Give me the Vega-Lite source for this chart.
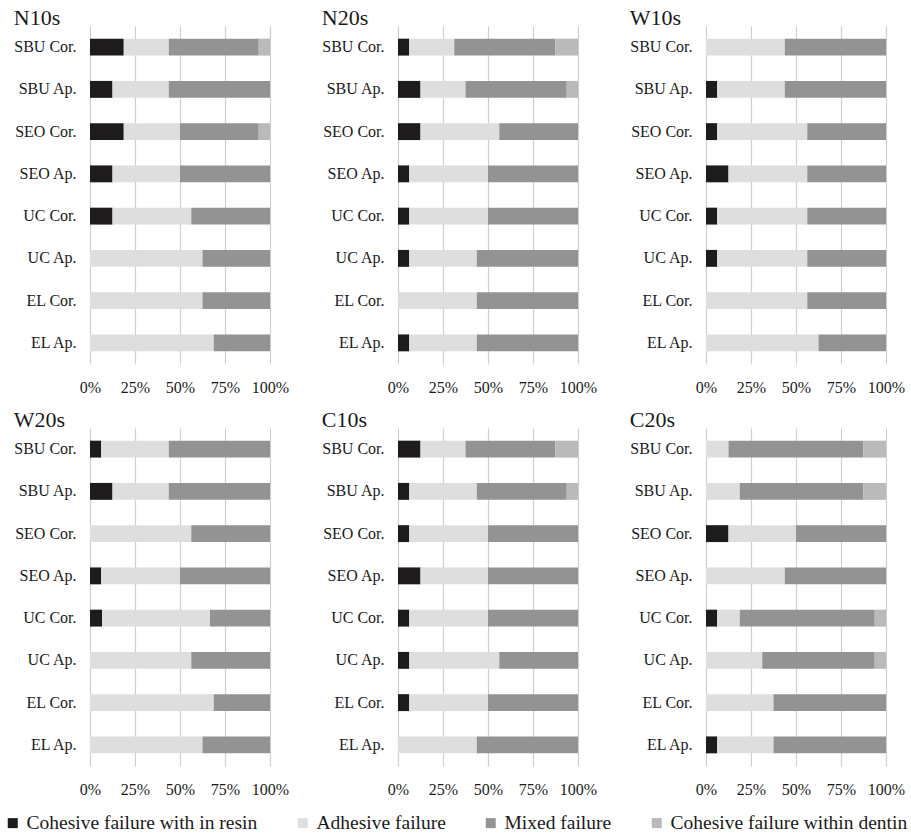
{
  "$schema": "https://vega.github.io/schema/vega-lite/v6.json",
  "background": "white",
  "padding": {"left": 3, "top": 7, "right": 5, "bottom": 2},
  "datasets": {
    "modes": [
      {"mode": "Cohesive failure with in resin", "rank": 1},
      {"mode": "Adhesive failure", "rank": 2},
      {"mode": "Mixed failure", "rank": 3},
      {"mode": "Cohesive failure within dentin", "rank": 4}
    ],
    "rows": [
      {"panel": "N10s", "group": "SBU Cor.", "mode": "Cohesive failure with in resin", "pct": 18.75},
      {"panel": "N10s", "group": "SBU Cor.", "mode": "Adhesive failure", "pct": 25},
      {"panel": "N10s", "group": "SBU Cor.", "mode": "Mixed failure", "pct": 50},
      {"panel": "N10s", "group": "SBU Cor.", "mode": "Cohesive failure within dentin", "pct": 6.25},
      {"panel": "N10s", "group": "SBU Ap.", "mode": "Cohesive failure with in resin", "pct": 12.5},
      {"panel": "N10s", "group": "SBU Ap.", "mode": "Adhesive failure", "pct": 31.25},
      {"panel": "N10s", "group": "SBU Ap.", "mode": "Mixed failure", "pct": 56.25},
      {"panel": "N10s", "group": "SEO Cor.", "mode": "Cohesive failure with in resin", "pct": 18.75},
      {"panel": "N10s", "group": "SEO Cor.", "mode": "Adhesive failure", "pct": 31.25},
      {"panel": "N10s", "group": "SEO Cor.", "mode": "Mixed failure", "pct": 43.75},
      {"panel": "N10s", "group": "SEO Cor.", "mode": "Cohesive failure within dentin", "pct": 6.25},
      {"panel": "N10s", "group": "SEO Ap.", "mode": "Cohesive failure with in resin", "pct": 12.5},
      {"panel": "N10s", "group": "SEO Ap.", "mode": "Adhesive failure", "pct": 37.5},
      {"panel": "N10s", "group": "SEO Ap.", "mode": "Mixed failure", "pct": 50},
      {"panel": "N10s", "group": "UC Cor.", "mode": "Cohesive failure with in resin", "pct": 12.5},
      {"panel": "N10s", "group": "UC Cor.", "mode": "Adhesive failure", "pct": 43.75},
      {"panel": "N10s", "group": "UC Cor.", "mode": "Mixed failure", "pct": 43.75},
      {"panel": "N10s", "group": "UC Ap.", "mode": "Adhesive failure", "pct": 62.5},
      {"panel": "N10s", "group": "UC Ap.", "mode": "Mixed failure", "pct": 37.5},
      {"panel": "N10s", "group": "EL Cor.", "mode": "Adhesive failure", "pct": 62.5},
      {"panel": "N10s", "group": "EL Cor.", "mode": "Mixed failure", "pct": 37.5},
      {"panel": "N10s", "group": "EL Ap.", "mode": "Adhesive failure", "pct": 68.75},
      {"panel": "N10s", "group": "EL Ap.", "mode": "Mixed failure", "pct": 31.25},

      {"panel": "N20s", "group": "SBU Cor.", "mode": "Cohesive failure with in resin", "pct": 6.25},
      {"panel": "N20s", "group": "SBU Cor.", "mode": "Adhesive failure", "pct": 25},
      {"panel": "N20s", "group": "SBU Cor.", "mode": "Mixed failure", "pct": 56.25},
      {"panel": "N20s", "group": "SBU Cor.", "mode": "Cohesive failure within dentin", "pct": 12.5},
      {"panel": "N20s", "group": "SBU Ap.", "mode": "Cohesive failure with in resin", "pct": 12.5},
      {"panel": "N20s", "group": "SBU Ap.", "mode": "Adhesive failure", "pct": 25},
      {"panel": "N20s", "group": "SBU Ap.", "mode": "Mixed failure", "pct": 56.25},
      {"panel": "N20s", "group": "SBU Ap.", "mode": "Cohesive failure within dentin", "pct": 6.25},
      {"panel": "N20s", "group": "SEO Cor.", "mode": "Cohesive failure with in resin", "pct": 12.5},
      {"panel": "N20s", "group": "SEO Cor.", "mode": "Adhesive failure", "pct": 43.75},
      {"panel": "N20s", "group": "SEO Cor.", "mode": "Mixed failure", "pct": 43.75},
      {"panel": "N20s", "group": "SEO Ap.", "mode": "Cohesive failure with in resin", "pct": 6.25},
      {"panel": "N20s", "group": "SEO Ap.", "mode": "Adhesive failure", "pct": 43.75},
      {"panel": "N20s", "group": "SEO Ap.", "mode": "Mixed failure", "pct": 50},
      {"panel": "N20s", "group": "UC Cor.", "mode": "Cohesive failure with in resin", "pct": 6.25},
      {"panel": "N20s", "group": "UC Cor.", "mode": "Adhesive failure", "pct": 43.75},
      {"panel": "N20s", "group": "UC Cor.", "mode": "Mixed failure", "pct": 50},
      {"panel": "N20s", "group": "UC Ap.", "mode": "Cohesive failure with in resin", "pct": 6.25},
      {"panel": "N20s", "group": "UC Ap.", "mode": "Adhesive failure", "pct": 37.5},
      {"panel": "N20s", "group": "UC Ap.", "mode": "Mixed failure", "pct": 56.25},
      {"panel": "N20s", "group": "EL Cor.", "mode": "Adhesive failure", "pct": 43.75},
      {"panel": "N20s", "group": "EL Cor.", "mode": "Mixed failure", "pct": 56.25},
      {"panel": "N20s", "group": "EL Ap.", "mode": "Cohesive failure with in resin", "pct": 6.25},
      {"panel": "N20s", "group": "EL Ap.", "mode": "Adhesive failure", "pct": 37.5},
      {"panel": "N20s", "group": "EL Ap.", "mode": "Mixed failure", "pct": 56.25},

      {"panel": "W10s", "group": "SBU Cor.", "mode": "Adhesive failure", "pct": 43.75},
      {"panel": "W10s", "group": "SBU Cor.", "mode": "Mixed failure", "pct": 56.25},
      {"panel": "W10s", "group": "SBU Ap.", "mode": "Cohesive failure with in resin", "pct": 6.25},
      {"panel": "W10s", "group": "SBU Ap.", "mode": "Adhesive failure", "pct": 37.5},
      {"panel": "W10s", "group": "SBU Ap.", "mode": "Mixed failure", "pct": 56.25},
      {"panel": "W10s", "group": "SEO Cor.", "mode": "Cohesive failure with in resin", "pct": 6.25},
      {"panel": "W10s", "group": "SEO Cor.", "mode": "Adhesive failure", "pct": 50},
      {"panel": "W10s", "group": "SEO Cor.", "mode": "Mixed failure", "pct": 43.75},
      {"panel": "W10s", "group": "SEO Ap.", "mode": "Cohesive failure with in resin", "pct": 12.5},
      {"panel": "W10s", "group": "SEO Ap.", "mode": "Adhesive failure", "pct": 43.75},
      {"panel": "W10s", "group": "SEO Ap.", "mode": "Mixed failure", "pct": 43.75},
      {"panel": "W10s", "group": "UC Cor.", "mode": "Cohesive failure with in resin", "pct": 6.25},
      {"panel": "W10s", "group": "UC Cor.", "mode": "Adhesive failure", "pct": 50},
      {"panel": "W10s", "group": "UC Cor.", "mode": "Mixed failure", "pct": 43.75},
      {"panel": "W10s", "group": "UC Ap.", "mode": "Cohesive failure with in resin", "pct": 6.25},
      {"panel": "W10s", "group": "UC Ap.", "mode": "Adhesive failure", "pct": 50},
      {"panel": "W10s", "group": "UC Ap.", "mode": "Mixed failure", "pct": 43.75},
      {"panel": "W10s", "group": "EL Cor.", "mode": "Adhesive failure", "pct": 56.25},
      {"panel": "W10s", "group": "EL Cor.", "mode": "Mixed failure", "pct": 43.75},
      {"panel": "W10s", "group": "EL Ap.", "mode": "Adhesive failure", "pct": 62.5},
      {"panel": "W10s", "group": "EL Ap.", "mode": "Mixed failure", "pct": 37.5},

      {"panel": "W20s", "group": "SBU Cor.", "mode": "Cohesive failure with in resin", "pct": 6.25},
      {"panel": "W20s", "group": "SBU Cor.", "mode": "Adhesive failure", "pct": 37.5},
      {"panel": "W20s", "group": "SBU Cor.", "mode": "Mixed failure", "pct": 56.25},
      {"panel": "W20s", "group": "SBU Ap.", "mode": "Cohesive failure with in resin", "pct": 12.5},
      {"panel": "W20s", "group": "SBU Ap.", "mode": "Adhesive failure", "pct": 31.25},
      {"panel": "W20s", "group": "SBU Ap.", "mode": "Mixed failure", "pct": 56.25},
      {"panel": "W20s", "group": "SEO Cor.", "mode": "Adhesive failure", "pct": 56.25},
      {"panel": "W20s", "group": "SEO Cor.", "mode": "Mixed failure", "pct": 43.75},
      {"panel": "W20s", "group": "SEO Ap.", "mode": "Cohesive failure with in resin", "pct": 6.25},
      {"panel": "W20s", "group": "SEO Ap.", "mode": "Adhesive failure", "pct": 43.75},
      {"panel": "W20s", "group": "SEO Ap.", "mode": "Mixed failure", "pct": 50},
      {"panel": "W20s", "group": "UC Cor.", "mode": "Cohesive failure with in resin", "pct": 6.67},
      {"panel": "W20s", "group": "UC Cor.", "mode": "Adhesive failure", "pct": 60},
      {"panel": "W20s", "group": "UC Cor.", "mode": "Mixed failure", "pct": 33.33},
      {"panel": "W20s", "group": "UC Ap.", "mode": "Adhesive failure", "pct": 56.25},
      {"panel": "W20s", "group": "UC Ap.", "mode": "Mixed failure", "pct": 43.75},
      {"panel": "W20s", "group": "EL Cor.", "mode": "Adhesive failure", "pct": 68.75},
      {"panel": "W20s", "group": "EL Cor.", "mode": "Mixed failure", "pct": 31.25},
      {"panel": "W20s", "group": "EL Ap.", "mode": "Adhesive failure", "pct": 62.5},
      {"panel": "W20s", "group": "EL Ap.", "mode": "Mixed failure", "pct": 37.5},

      {"panel": "C10s", "group": "SBU Cor.", "mode": "Cohesive failure with in resin", "pct": 12.5},
      {"panel": "C10s", "group": "SBU Cor.", "mode": "Adhesive failure", "pct": 25},
      {"panel": "C10s", "group": "SBU Cor.", "mode": "Mixed failure", "pct": 50},
      {"panel": "C10s", "group": "SBU Cor.", "mode": "Cohesive failure within dentin", "pct": 12.5},
      {"panel": "C10s", "group": "SBU Ap.", "mode": "Cohesive failure with in resin", "pct": 6.25},
      {"panel": "C10s", "group": "SBU Ap.", "mode": "Adhesive failure", "pct": 37.5},
      {"panel": "C10s", "group": "SBU Ap.", "mode": "Mixed failure", "pct": 50},
      {"panel": "C10s", "group": "SBU Ap.", "mode": "Cohesive failure within dentin", "pct": 6.25},
      {"panel": "C10s", "group": "SEO Cor.", "mode": "Cohesive failure with in resin", "pct": 6.25},
      {"panel": "C10s", "group": "SEO Cor.", "mode": "Adhesive failure", "pct": 43.75},
      {"panel": "C10s", "group": "SEO Cor.", "mode": "Mixed failure", "pct": 50},
      {"panel": "C10s", "group": "SEO Ap.", "mode": "Cohesive failure with in resin", "pct": 12.5},
      {"panel": "C10s", "group": "SEO Ap.", "mode": "Adhesive failure", "pct": 37.5},
      {"panel": "C10s", "group": "SEO Ap.", "mode": "Mixed failure", "pct": 50},
      {"panel": "C10s", "group": "UC Cor.", "mode": "Cohesive failure with in resin", "pct": 6.25},
      {"panel": "C10s", "group": "UC Cor.", "mode": "Adhesive failure", "pct": 43.75},
      {"panel": "C10s", "group": "UC Cor.", "mode": "Mixed failure", "pct": 50},
      {"panel": "C10s", "group": "UC Ap.", "mode": "Cohesive failure with in resin", "pct": 6.25},
      {"panel": "C10s", "group": "UC Ap.", "mode": "Adhesive failure", "pct": 50},
      {"panel": "C10s", "group": "UC Ap.", "mode": "Mixed failure", "pct": 43.75},
      {"panel": "C10s", "group": "EL Cor.", "mode": "Cohesive failure with in resin", "pct": 6.25},
      {"panel": "C10s", "group": "EL Cor.", "mode": "Adhesive failure", "pct": 43.75},
      {"panel": "C10s", "group": "EL Cor.", "mode": "Mixed failure", "pct": 50},
      {"panel": "C10s", "group": "EL Ap.", "mode": "Adhesive failure", "pct": 43.75},
      {"panel": "C10s", "group": "EL Ap.", "mode": "Mixed failure", "pct": 56.25},

      {"panel": "C20s", "group": "SBU Cor.", "mode": "Adhesive failure", "pct": 12.5},
      {"panel": "C20s", "group": "SBU Cor.", "mode": "Mixed failure", "pct": 75},
      {"panel": "C20s", "group": "SBU Cor.", "mode": "Cohesive failure within dentin", "pct": 12.5},
      {"panel": "C20s", "group": "SBU Ap.", "mode": "Adhesive failure", "pct": 18.75},
      {"panel": "C20s", "group": "SBU Ap.", "mode": "Mixed failure", "pct": 68.75},
      {"panel": "C20s", "group": "SBU Ap.", "mode": "Cohesive failure within dentin", "pct": 12.5},
      {"panel": "C20s", "group": "SEO Cor.", "mode": "Cohesive failure with in resin", "pct": 12.5},
      {"panel": "C20s", "group": "SEO Cor.", "mode": "Adhesive failure", "pct": 37.5},
      {"panel": "C20s", "group": "SEO Cor.", "mode": "Mixed failure", "pct": 50},
      {"panel": "C20s", "group": "SEO Ap.", "mode": "Adhesive failure", "pct": 43.75},
      {"panel": "C20s", "group": "SEO Ap.", "mode": "Mixed failure", "pct": 56.25},
      {"panel": "C20s", "group": "UC Cor.", "mode": "Cohesive failure with in resin", "pct": 6.25},
      {"panel": "C20s", "group": "UC Cor.", "mode": "Adhesive failure", "pct": 12.5},
      {"panel": "C20s", "group": "UC Cor.", "mode": "Mixed failure", "pct": 75},
      {"panel": "C20s", "group": "UC Cor.", "mode": "Cohesive failure within dentin", "pct": 6.25},
      {"panel": "C20s", "group": "UC Ap.", "mode": "Adhesive failure", "pct": 31.25},
      {"panel": "C20s", "group": "UC Ap.", "mode": "Mixed failure", "pct": 62.5},
      {"panel": "C20s", "group": "UC Ap.", "mode": "Cohesive failure within dentin", "pct": 6.25},
      {"panel": "C20s", "group": "EL Cor.", "mode": "Adhesive failure", "pct": 37.5},
      {"panel": "C20s", "group": "EL Cor.", "mode": "Mixed failure", "pct": 62.5},
      {"panel": "C20s", "group": "EL Ap.", "mode": "Cohesive failure with in resin", "pct": 6.25},
      {"panel": "C20s", "group": "EL Ap.", "mode": "Adhesive failure", "pct": 31.25},
      {"panel": "C20s", "group": "EL Ap.", "mode": "Mixed failure", "pct": 62.5}
    ]
  },
  "data": {"name": "rows"},
  "transform": [
    {"lookup": "mode", "from": {"data": {"name": "modes"}, "key": "mode", "fields": ["rank"]}}
  ],
  "columns": 3,
  "spacing": {"row": 14, "column": 32},
  "concat": [
    {
      "title": "N10s",
      "transform": [{"filter": "datum.panel === 'N10s'"}],
      "width": 180, "height": 338,
      "mark": {"type": "bar"},
      "encoding": {
        "y": {"field": "group", "type": "nominal", "title": null, "sort": ["SBU Cor.", "SBU Ap.", "SEO Cor.", "SEO Ap.", "UC Cor.", "UC Ap.", "EL Cor.", "EL Ap."], "scale": {"paddingInner": 0.6, "paddingOuter": 0.3}},
        "x": {"field": "pct", "type": "quantitative", "stack": "zero", "title": null, "scale": {"domain": [0, 100], "nice": false}, "axis": {"values": [0, 25, 50, 75, 100], "labelExpr": "datum.value + '%'"}},
        "color": {"field": "mode", "type": "nominal", "title": null, "scale": {"domain": ["Cohesive failure with in resin", "Adhesive failure", "Mixed failure", "Cohesive failure within dentin"], "range": ["#1e1b1c", "#dedede", "#939393", "#bababa"]}, "legend": {"orient": "none", "legendX": -87, "legendY": 787}},
        "order": {"field": "rank", "type": "quantitative"}
      }
    },
    {
      "title": "N20s",
      "transform": [{"filter": "datum.panel === 'N20s'"}],
      "width": 180, "height": 338,
      "mark": {"type": "bar"},
      "encoding": {
        "y": {"field": "group", "type": "nominal", "title": null, "sort": ["SBU Cor.", "SBU Ap.", "SEO Cor.", "SEO Ap.", "UC Cor.", "UC Ap.", "EL Cor.", "EL Ap."], "scale": {"paddingInner": 0.6, "paddingOuter": 0.3}},
        "x": {"field": "pct", "type": "quantitative", "stack": "zero", "title": null, "scale": {"domain": [0, 100], "nice": false}, "axis": {"values": [0, 25, 50, 75, 100], "labelExpr": "datum.value + '%'"}},
        "color": {"field": "mode", "type": "nominal", "title": null, "scale": {"domain": ["Cohesive failure with in resin", "Adhesive failure", "Mixed failure", "Cohesive failure within dentin"], "range": ["#1e1b1c", "#dedede", "#939393", "#bababa"]}},
        "order": {"field": "rank", "type": "quantitative"}
      }
    },
    {
      "title": "W10s",
      "transform": [{"filter": "datum.panel === 'W10s'"}],
      "width": 180, "height": 338,
      "mark": {"type": "bar"},
      "encoding": {
        "y": {"field": "group", "type": "nominal", "title": null, "sort": ["SBU Cor.", "SBU Ap.", "SEO Cor.", "SEO Ap.", "UC Cor.", "UC Ap.", "EL Cor.", "EL Ap."], "scale": {"paddingInner": 0.6, "paddingOuter": 0.3}},
        "x": {"field": "pct", "type": "quantitative", "stack": "zero", "title": null, "scale": {"domain": [0, 100], "nice": false}, "axis": {"values": [0, 25, 50, 75, 100], "labelExpr": "datum.value + '%'"}},
        "color": {"field": "mode", "type": "nominal", "title": null, "scale": {"domain": ["Cohesive failure with in resin", "Adhesive failure", "Mixed failure", "Cohesive failure within dentin"], "range": ["#1e1b1c", "#dedede", "#939393", "#bababa"]}},
        "order": {"field": "rank", "type": "quantitative"}
      }
    },
    {
      "title": "W20s",
      "transform": [{"filter": "datum.panel === 'W20s'"}],
      "width": 180, "height": 338,
      "mark": {"type": "bar"},
      "encoding": {
        "y": {"field": "group", "type": "nominal", "title": null, "sort": ["SBU Cor.", "SBU Ap.", "SEO Cor.", "SEO Ap.", "UC Cor.", "UC Ap.", "EL Cor.", "EL Ap."], "scale": {"paddingInner": 0.6, "paddingOuter": 0.3}},
        "x": {"field": "pct", "type": "quantitative", "stack": "zero", "title": null, "scale": {"domain": [0, 100], "nice": false}, "axis": {"values": [0, 25, 50, 75, 100], "labelExpr": "datum.value + '%'"}},
        "color": {"field": "mode", "type": "nominal", "title": null, "scale": {"domain": ["Cohesive failure with in resin", "Adhesive failure", "Mixed failure", "Cohesive failure within dentin"], "range": ["#1e1b1c", "#dedede", "#939393", "#bababa"]}},
        "order": {"field": "rank", "type": "quantitative"}
      }
    },
    {
      "title": "C10s",
      "transform": [{"filter": "datum.panel === 'C10s'"}],
      "width": 180, "height": 338,
      "mark": {"type": "bar"},
      "encoding": {
        "y": {"field": "group", "type": "nominal", "title": null, "sort": ["SBU Cor.", "SBU Ap.", "SEO Cor.", "SEO Ap.", "UC Cor.", "UC Ap.", "EL Cor.", "EL Ap."], "scale": {"paddingInner": 0.6, "paddingOuter": 0.3}},
        "x": {"field": "pct", "type": "quantitative", "stack": "zero", "title": null, "scale": {"domain": [0, 100], "nice": false}, "axis": {"values": [0, 25, 50, 75, 100], "labelExpr": "datum.value + '%'"}},
        "color": {"field": "mode", "type": "nominal", "title": null, "scale": {"domain": ["Cohesive failure with in resin", "Adhesive failure", "Mixed failure", "Cohesive failure within dentin"], "range": ["#1e1b1c", "#dedede", "#939393", "#bababa"]}},
        "order": {"field": "rank", "type": "quantitative"}
      }
    },
    {
      "title": "C20s",
      "transform": [{"filter": "datum.panel === 'C20s'"}],
      "width": 180, "height": 338,
      "mark": {"type": "bar"},
      "encoding": {
        "y": {"field": "group", "type": "nominal", "title": null, "sort": ["SBU Cor.", "SBU Ap.", "SEO Cor.", "SEO Ap.", "UC Cor.", "UC Ap.", "EL Cor.", "EL Ap."], "scale": {"paddingInner": 0.6, "paddingOuter": 0.3}},
        "x": {"field": "pct", "type": "quantitative", "stack": "zero", "title": null, "scale": {"domain": [0, 100], "nice": false}, "axis": {"values": [0, 25, 50, 75, 100], "labelExpr": "datum.value + '%'"}},
        "color": {"field": "mode", "type": "nominal", "title": null, "scale": {"domain": ["Cohesive failure with in resin", "Adhesive failure", "Mixed failure", "Cohesive failure within dentin"], "range": ["#1e1b1c", "#dedede", "#939393", "#bababa"]}},
        "order": {"field": "rank", "type": "quantitative"}
      }
    }
  ],
  "config": {
    "view": {"stroke": null},
    "font": "Liberation Serif",
    "title": {"anchor": "start", "frame": "bounds", "font": "Liberation Serif", "fontSize": 22, "fontWeight": "normal", "color": "#1a1a1a", "offset": -4},
    "axisY": {"domain": false, "ticks": false, "grid": false, "labelPadding": 14, "labelFont": "Liberation Serif", "labelFontSize": 16, "labelColor": "#1a1a1a"},
    "axisX": {"domain": false, "ticks": false, "grid": true, "gridColor": "#cfcfcf", "gridWidth": 1.2, "labelPadding": 15, "labelFont": "Liberation Serif", "labelFontSize": 16, "labelColor": "#1a1a1a", "labelFlush": false, "labelOverlap": false},
    "legend": {"direction": "horizontal", "columns": 4, "symbolType": "square", "symbolSize": 100, "symbolStrokeWidth": 0, "labelFont": "Liberation Serif", "labelFontSize": 19.5, "labelColor": "#1a1a1a", "labelLimit": 400, "labelOffset": 4, "columnPadding": 35, "padding": 0}
  }
}
